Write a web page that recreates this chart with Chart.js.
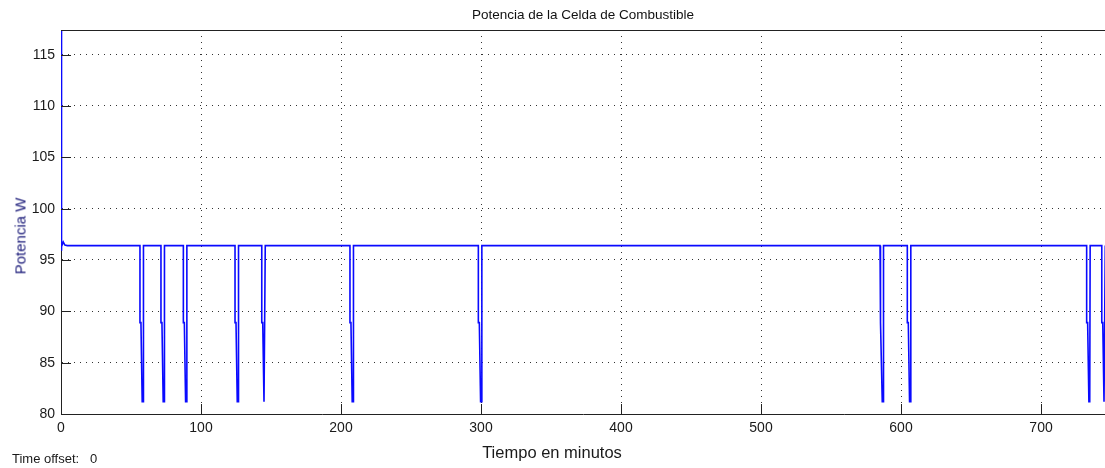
<!DOCTYPE html>
<html lang="es">
<head>
<meta charset="utf-8">
<title>Potencia de la Celda de Combustible</title>
<script src="https://cdn.jsdelivr.net/npm/chart.js@4/dist/chart.umd.min.js"></script>
<style>
  html, body { margin: 0; padding: 0; background: #fff; }
  #wrap { position: relative; width: 1105px; height: 468px; overflow: hidden; }
  .lbl { position: absolute; font-family: 'Liberation Sans', Arial, sans-serif; font-weight: normal; color: #1a1a1a; white-space: nowrap; }
  #lbl-y { left: 20px; top: 236px; font-size: 15px; color: #1c1c7a; transform: translate(-50%, -50%) rotate(-90deg); }
  #lbl-x { left: 552px; top: 452px; font-size: 16.5px; transform: translate(-50%, -50%); }
  #lbl-offset { left: 12px; top: 451px; font-size: 13px; }
</style>
</head>
<body>
<div id="wrap">
  <canvas id="potencia-chart" width="1105" height="468"></canvas>
  <div class="lbl" id="lbl-y">Potencia W</div>
  <div class="lbl" id="lbl-x">Tiempo en minutos</div>
  <div class="lbl" id="lbl-offset">Time offset:&nbsp;&nbsp; 0</div>
</div>
<script>
/* Potencia de la celda de combustible — salida del scope */

const tiempo = [
    0, 0.05, 0.7, 1.6, 2.8, 4.5,
    56.4, 56.4, 57.1, 58.0, 58.6, 58.9,
    71.4, 71.4, 72.1, 73.0, 73.6, 73.9,
    87.4, 87.4, 88.1, 89.0, 89.6, 89.9,
    124.3, 124.3, 125.0, 125.9, 126.5, 126.8,
    143.4, 143.4, 144.1, 145.0, 145.6, 145.9,
    206.4, 206.4, 207.1, 208.0, 208.6, 208.9,
    298.1, 298.1, 298.8, 299.7, 300.3, 300.6,
    585.0, 585.0, 585.7, 586.6, 587.2, 587.5,
    604.5, 604.5, 605.2, 606.1, 606.7, 607.0,
    732.6, 732.6, 733.3, 734.2, 734.8, 735.1,
    743.4, 743.4, 744.1, 745.0, 745.6, 745.9
];

const potencia = [
    117.4, 95.9, 96.3, 96.75, 96.45, 96.4,
    96.4, 88.9, 88.9, 81.2, 81.2, 96.4,
    96.4, 88.9, 88.9, 81.2, 81.2, 96.4,
    96.4, 88.9, 88.9, 81.2, 81.2, 96.4,
    96.4, 88.9, 88.9, 81.2, 81.2, 96.4,
    96.4, 88.9, 88.9, 81.2, 81.2, 96.4,
    96.4, 88.9, 88.9, 81.2, 81.2, 96.4,
    96.4, 88.9, 88.9, 81.2, 81.2, 96.4,
    96.4, 88.9, 88.9, 81.2, 81.2, 96.4,
    96.4, 88.9, 88.9, 81.2, 81.2, 96.4,
    96.4, 88.9, 88.9, 81.2, 81.2, 96.4,
    96.4, 88.9, 88.9, 81.2, 81.2, 96.4
];

const ticksX = [0, 100, 200, 300, 400, 500, 600, 700];
const ticksY = [80, 85, 90, 95, 100, 105, 110, 115];
const rangoX = [0, 745.7];
const rangoY = [80, 117.4];

const fuenteTicks = { family: "'Liberation Sans Narrow', 'Liberation Sans', Arial, sans-serif", size: 14 };

// marco superior y marcas de los ejes hacia adentro
const marcasInternas = {
    id: 'marcasInternas',
    afterDraw(chart) {
        const { ctx, chartArea: a, scales: { x, y } } = chart;
        ctx.save();
        ctx.strokeStyle = '#222';
        ctx.lineWidth = 1;
        ctx.beginPath();
        ctx.moveTo(a.left, a.top + 0.5);
        ctx.lineTo(a.right, a.top + 0.5);
        x.ticks.forEach(t => {
            const px = Math.round(x.getPixelForValue(t.value)) + 0.5;
            ctx.moveTo(px, a.bottom);
            ctx.lineTo(px, a.bottom - 10);
        });
        y.ticks.forEach(t => {
            const py = Math.round(y.getPixelForValue(t.value)) + 0.5;
            ctx.moveTo(a.left, py);
            ctx.lineTo(a.left + 10, py);
        });
        ctx.stroke();
        ctx.restore();
    }
};

new Chart(document.getElementById('potencia-chart'), {
    type: 'line',
    data: {
        datasets: [{
            label: 'Potencia W',
            data: tiempo.map((t, i) => ({ x: t, y: potencia[i] })),
            borderColor: '#0a0aff',
            borderWidth: 1.6,
            pointRadius: 0,
            tension: 0,
            fill: false
        }]
    },
    options: {
        responsive: false,
        animation: false,
        layout: { padding: 0 },
        plugins: {
            legend: { display: false },
            tooltip: { enabled: false },
            title: {
                display: true,
                fullSize: false,
                text: 'Potencia de la Celda de Combustible',
                color: '#111',
                font: { family: "'Liberation Sans', Arial, sans-serif", size: 13.5, weight: 'normal' },
                padding: { top: 7, bottom: 6.8 }
            }
        },
        scales: {
            x: {
                type: 'linear',
                min: rangoX[0],
                max: rangoX[1],
                afterBuildTicks: s => { s.ticks = ticksX.map(v => ({ value: v })); },
                afterFit: s => { s.height = 54; },
                ticks: { color: '#1a1a1a', font: fuenteTicks, padding: 6, maxRotation: 0 },
                grid: { color: '#333', lineWidth: 1, drawTicks: false },
                border: { display: true, color: '#222', width: 1, dash: [1, 5] }
            },
            y: {
                type: 'linear',
                min: rangoY[0],
                max: rangoY[1],
                afterBuildTicks: s => { s.ticks = ticksY.map(v => ({ value: v })); },
                afterFit: s => { s.width = 61; },
                ticks: { color: '#1a1a1a', font: fuenteTicks, padding: 6 },
                grid: { color: '#333', lineWidth: 1, drawTicks: false },
                border: { display: true, color: '#222', width: 1, dash: [1, 5] }
            }
        }
    },
    plugins: [marcasInternas]
});
</script>
</body>
</html>
